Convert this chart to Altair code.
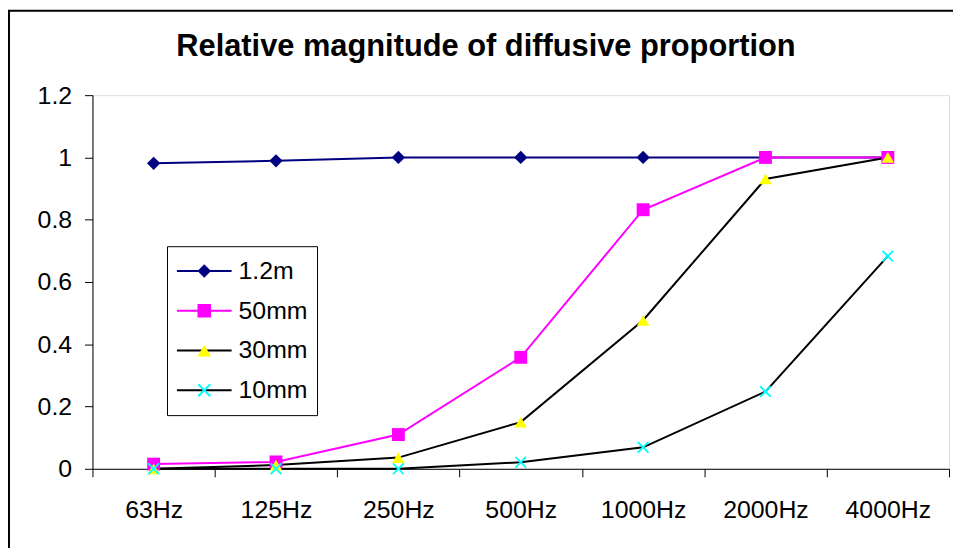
import altair as alt
import pandas as pd

categories = ["63Hz", "125Hz", "250Hz", "500Hz", "1000Hz", "2000Hz", "4000Hz"]
series_names = ["1.2m", "50mm", "30mm", "10mm"]
v_12m = [0.981, 0.989, 1.0, 1.0, 1.0, 1.0, 1.0]
v_50mm = [0.015, 0.022, 0.11, 0.358, 0.832, 1.0, 1.0]
v_30mm = [0.0, 0.012, 0.036, 0.15, 0.477, 0.931, 1.0]
v_10mm = [0.0, 0.0, 0.0, 0.021, 0.069, 0.248, 0.683]
y_ticks = [0, 0.2, 0.4, 0.6, 0.8, 1.0, 1.2]

line_colors = ["#000080", "#FF00FF", "#000000", "#000000"]
line_widths = [2, 2, 1.5, 1.5]
marker_fill = ["#000080", "#FF00FF", "#FFFF00", "#00FFFF"]
X_PATH = ("M-1,-0.78L-0.78,-1L0,-0.22L0.78,-1L1,-0.78L0.22,0L1,0.78L0.78,1"
          "L0,0.22L-0.78,1L-1,0.78L-0.22,0Z")
marker_shapes = ["diamond", "square", "triangle-up", X_PATH]
marker_sizes = [180, 145, 215, 190]

rows = []
for name, vals in zip(series_names, [v_12m, v_50mm, v_30mm, v_10mm]):
    for c, v in zip(categories, vals):
        rows.append({"freq": c, "value": v, "series": name})
df = pd.DataFrame(rows)

FONT = "Liberation Sans"

x_enc = alt.X(
    "freq:N",
    sort=categories,
    scale=alt.Scale(domain=categories, paddingInner=0, paddingOuter=0),
    axis=alt.Axis(
        title=None, tickBand="extent", tickSize=8, tickColor="#000",
        domainColor="#000", labelFontSize=25, labelFont=FONT, labelColor="#000",
        labelPadding=21, labelAngle=0, grid=False,
    ),
)
y_enc = alt.Y(
    "value:Q",
    scale=alt.Scale(domain=[0, 1.2], nice=False),
    axis=alt.Axis(
        title=None, values=y_ticks, format=".1~f", tickSize=8, tickColor="#000",
        domainColor="#000", labelFontSize=25, labelFont=FONT, labelColor="#000",
        labelPadding=13, grid=False,
    ),
)

LX, LY = 75, 152
line_legend = alt.Legend(
    title=None, orient="none", legendX=LX, legendY=LY, symbolType="stroke",
    symbolSize=3025, symbolStrokeWidth=2, padding=9, clipHeight=32, rowPadding=8,
    labelOffset=6, labelFontSize=25, labelFont=FONT, labelColor="#000",
    strokeColor="#000", labelLimit=300,
)
pt_legend = alt.Legend(
    title=None, orient="none", legendX=LX + 16, legendY=LY, symbolSize=185,
    symbolStrokeWidth=0, symbolOpacity=1, padding=9, clipHeight=32, rowPadding=8,
    labelOffset=6, labelFontSize=25, labelFont=FONT, labelExpr="''",
)

lines = alt.Chart(df).mark_line().encode(
    x=x_enc,
    y=y_enc,
    stroke=alt.Stroke("series:N", sort=series_names, scale=alt.Scale(range=line_colors),
                      legend=line_legend),
    strokeWidth=alt.StrokeWidth("series:N", sort=series_names,
                                scale=alt.Scale(range=line_widths), legend=None),
)

points = alt.Chart(df).mark_point(filled=True, opacity=1, strokeWidth=0).encode(
    x=x_enc,
    y=y_enc,
    fill=alt.Fill("series:N", scale=alt.Scale(domain=series_names, range=marker_fill),
                  legend=pt_legend),
    shape=alt.Shape("series:N", scale=alt.Scale(domain=series_names, range=marker_shapes),
                    legend=pt_legend),
    size=alt.Size("series:O", sort=series_names, scale=alt.Scale(range=marker_sizes),
                  legend=None),
)

frame = alt.Chart(pd.DataFrame({"k": [0]})).mark_rect(
    fill="transparent", stroke="#000", strokeWidth=2
).encode(
    x=alt.value(-84), y=alt.value(-85), x2=alt.value(900), y2=alt.value(500)
)

chart = (
    alt.layer(frame, lines, points)
    .properties(
        width=862,
        height=376,
        autosize=alt.AutoSizeParams(type="none"),
        padding={"left": 85, "top": 86, "right": 4, "bottom": 78},
        title=alt.TitleParams(
            "Relative magnitude of diffusive proportion",
            font=FONT, fontSize=31, fontWeight="bold", color="#000",
            anchor="middle", dx=-35, offset=-78, frame="group", baseline="alphabetic",
        ),
    )
    .configure_view(stroke="#000", strokeWidth=1)
    .configure(background="white")
)

chart.save("out.html", embed_options={"renderer": "svg", "actions": False})
